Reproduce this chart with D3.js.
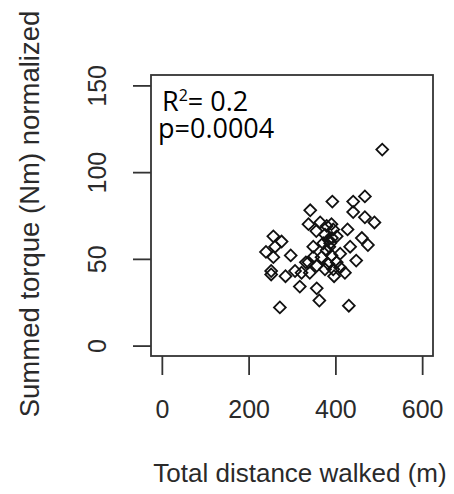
<!DOCTYPE html>
<html><head><meta charset="utf-8">
<script src="https://cdn.jsdelivr.net/npm/d3@7"></script>
<style>body{margin:0;background:#fff}svg{display:block}</style>
</head><body><svg id="c" width="454" height="494"></svg>
<script>
// Data (x = total distance walked (m), y = summed torque (Nm) normalized)
const distance = [508,468,441,393,342,441,468,490,338,365,391,428,257,276,240,261,257,297,349,384,434,461,475,448,252,252,285,307,318,338,341,357,363,272,431,397,422,411,376,357,380,395,376,388,380,391,368,403,384,349,411,372,403,332,395,386,392,356,322];
const torque   = [113,86,83,83,78,77,74,71,70,71,70,67,63,60,54,57,51,52,57,61,57,62,58,49,43,41,40,43,34,48,42,33,26,22,23,40,42,45,44,46,69,67,64,59,55,52,51,48,47,51,53,59,63,48,44,57,62,66,42];
const xTicks = [0,200,400,600];
const yTicks = [0,50,100,150];
const xTitle = "Total distance walked (m)";
const yTitle = "Summed torque (Nm) normalized";
const annoR = ["R", "2", "= 0.2"];
const annoP = "p=0.0004";

const svg = d3.select("#c");
const L = 151, R = 433, T = 75, B = 356;
const x = d3.scaleLinear().domain([-25, 625]).range([L, R]);
const y = d3.scaleLinear().domain([-6, 156]).range([B, T]);
const ink = "#2a2a2a";
const font = "'Liberation Sans', Arial, sans-serif";

// points
const pts = distance.map((d, i) => ({x: d, y: torque[i]}));
const diamond = d3.symbol().type(d3.symbolSquare).size(70);
svg.append("g").selectAll("path").data(pts).join("path")
  .attr("d", diamond)
  .attr("transform", d => `translate(${x(d.x)},${y(d.y)}) rotate(45)`)
  .attr("fill", "none").attr("stroke", "#111").attr("stroke-width", 1.8);

// box
svg.append("rect").attr("x", L).attr("y", T).attr("width", R - L).attr("height", B - T)
  .attr("fill", "none").attr("stroke", "#333").attr("stroke-width", 1.8);

// x axis
const gx = svg.append("g").attr("transform", `translate(0,${B})`)
  .call(d3.axisBottom(x).tickValues(xTicks).tickSize(19).tickFormat(d3.format("d")));
gx.select(".domain").remove();
gx.selectAll("line").attr("stroke", "#333").attr("stroke-width", 1.8);
gx.selectAll("text").attr("y", 62).attr("dy", null)
  .attr("font-family", font).attr("font-size", 25).attr("fill", ink);

// y axis
const gy = svg.append("g").attr("transform", `translate(${L},0)`)
  .call(d3.axisLeft(y).tickValues(yTicks).tickSize(18).tickFormat(d3.format("d")));
gy.select(".domain").remove();
gy.selectAll("line").attr("stroke", "#333").attr("stroke-width", 1.8);
gy.selectAll("text").attr("x", null).attr("dy", null)
  .attr("transform", "translate(-45,0) rotate(-90)")
  .attr("text-anchor", "middle")
  .attr("font-family", font).attr("font-size", 25).attr("fill", ink);

// titles
svg.append("text").attr("x", 300).attr("y", 482).attr("text-anchor", "middle")
  .attr("font-family", font).attr("font-size", 26).attr("fill", ink).text(xTitle);
svg.append("text").attr("transform", "translate(39,214) rotate(-90)").attr("text-anchor", "middle")
  .attr("font-family", font).attr("font-size", 27.5).attr("fill", ink).text(yTitle);

// annotation: one text element, two lines
const anno = svg.append("text").attr("x", 162).attr("y", 111)
  .attr("font-family", "'Open Sans', sans-serif").attr("font-size", 27).attr("fill", "#000");
anno.append("tspan").text(annoR[0]);
anno.append("tspan").attr("dy", -10).attr("font-size", 16).text(annoR[1]);
anno.append("tspan").attr("dy", 10).text(annoR[2]);
anno.append("tspan").attr("x", 158).attr("dy", 27).text(annoP);
</script>
</body></html>
